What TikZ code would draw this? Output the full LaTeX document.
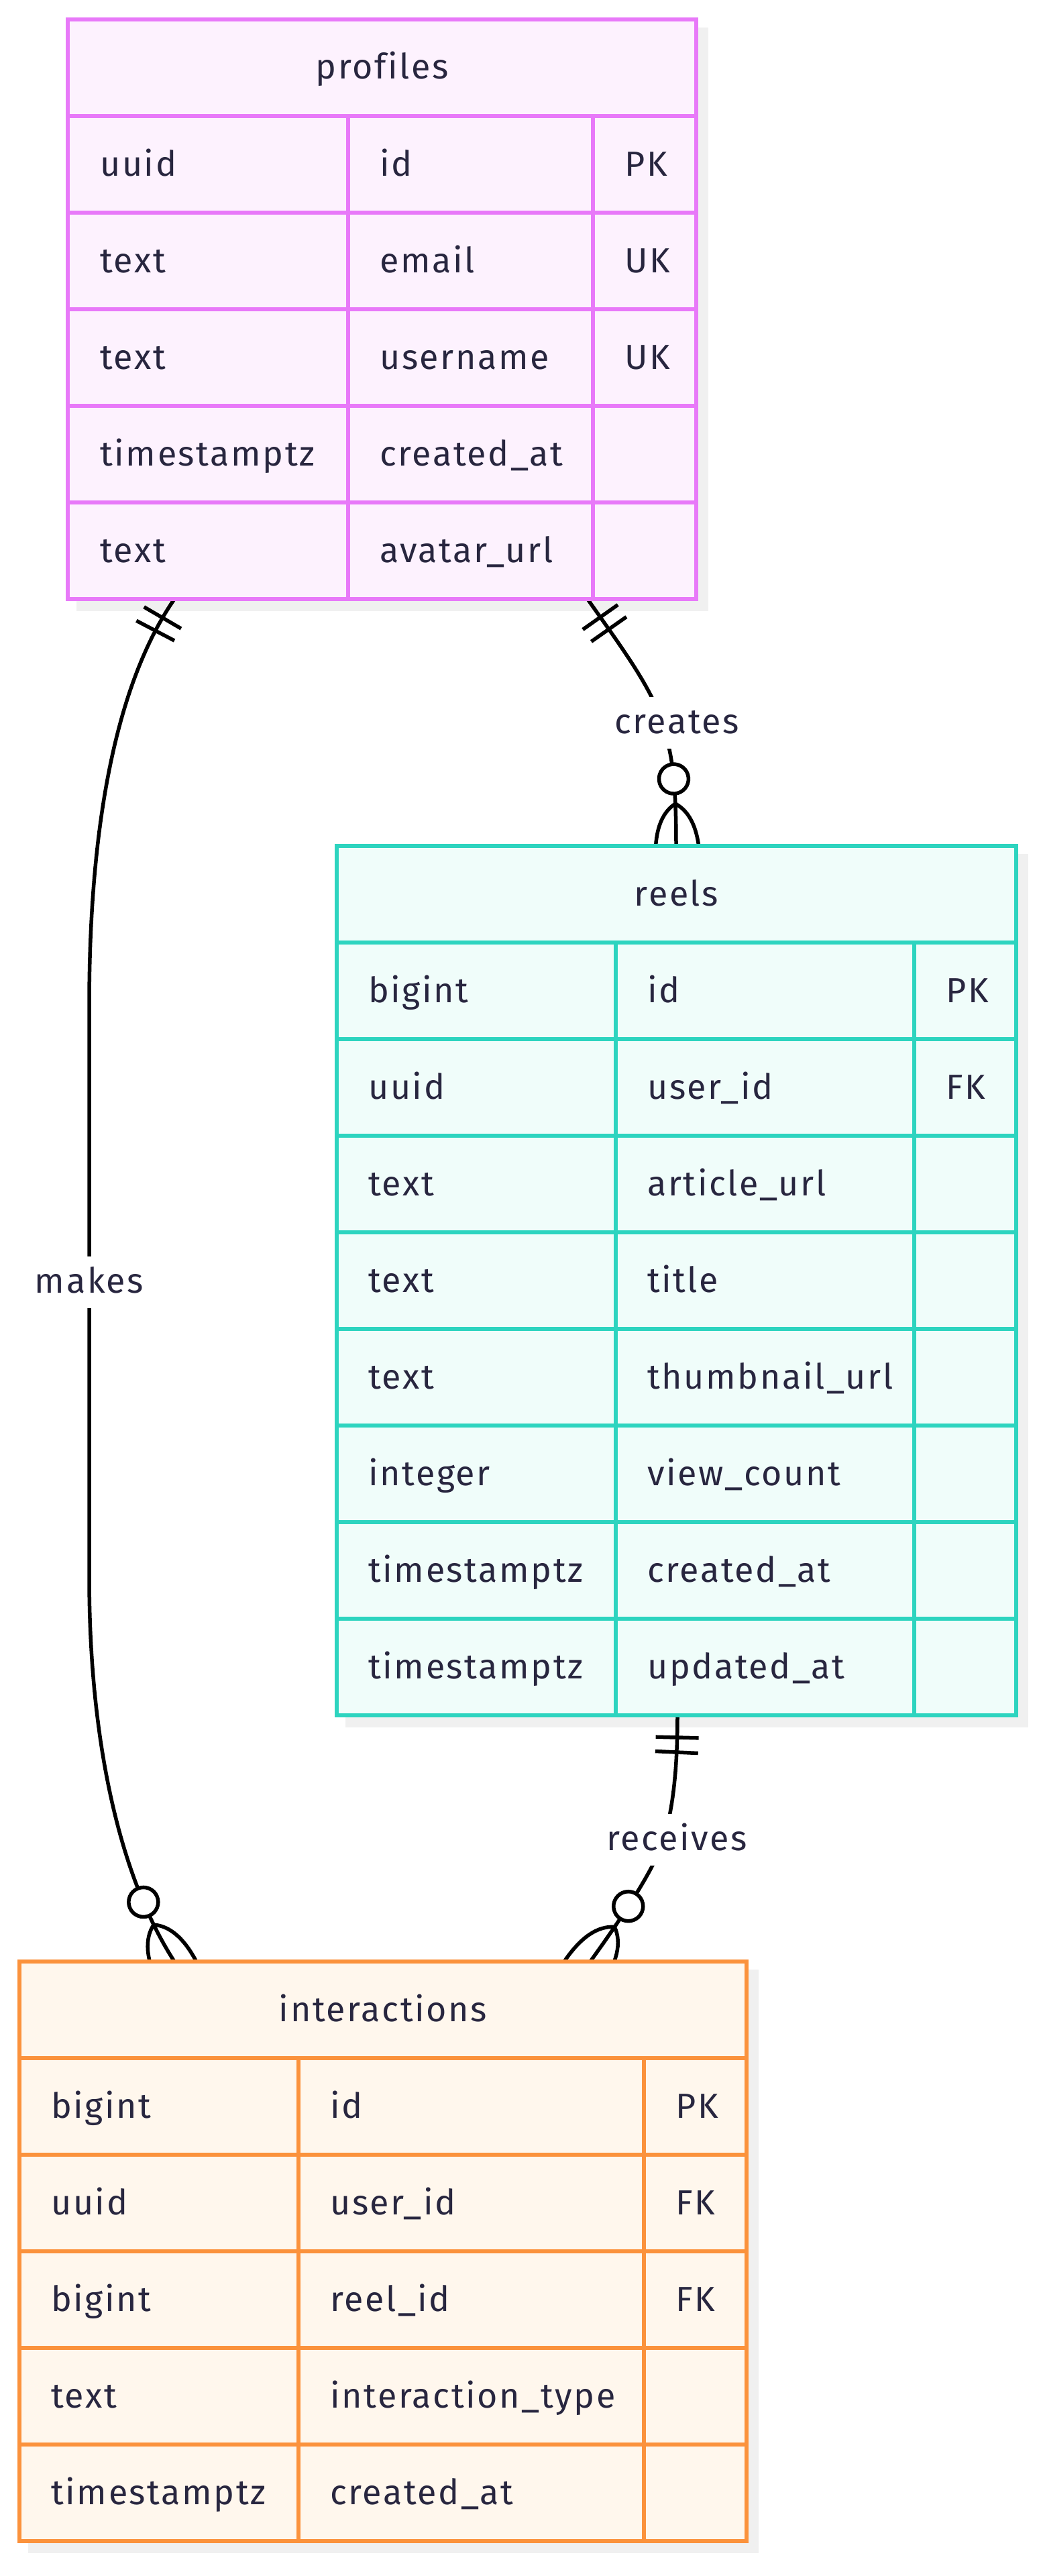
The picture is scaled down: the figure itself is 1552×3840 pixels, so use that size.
\documentclass[tikz,border=0pt]{standalone}
\usepackage{fontspec}
\setmainfont{Fira Sans}[LetterSpace=5, Ligatures={NoCommon}]
\usetikzlibrary{positioning,decorations.markings}

\definecolor{ink}{HTML}{28263F}
\definecolor{pinkline}{HTML}{E879F9}
\definecolor{pinkfill}{HTML}{FDF2FE}
\definecolor{tealline}{HTML}{2DD4BF}
\definecolor{tealfill}{HTML}{F0FDFA}
\definecolor{orangeline}{HTML}{FB923C}
\definecolor{orangefill}{HTML}{FFF7ED}
\definecolor{shadowgray}{HTML}{F0F0F0}

\newcommand{\erfont}{\fontsize{52}{62}\selectfont}

\begin{document}
\begin{tikzpicture}[x=1pt,y=-1pt,
    frame/.style={inner sep=0pt, outer sep=0pt, anchor=north west},
    tblshadow/.style={fill=shadowgray},
    tbl/.style={line width=6pt},
    cell/.style={anchor=base west, inner sep=0pt, text=ink, font=\erfont},
    title/.style={anchor=base, inner sep=0pt, text=ink, font=\erfont},
    rel/.style={line width=5.5pt, black},
    lbl/.style={anchor=base, fill=white, text=ink, font=\erfont, text height=40pt, text depth=9pt, inner xsep=4pt, inner ysep=14pt},
    one end/.style={postaction={decorate, decoration={markings,
        mark=at position 33pt with {\draw[rel] (0pt,-32pt) -- (0pt,32pt);},
        mark=at position 55pt with {\draw[rel] (0pt,-32pt) -- (0pt,32pt);}}}},
    many end/.style={postaction={decorate, decoration={markings,
        mark=at position -63pt with {\draw[rel] (0pt,0pt) .. controls (13pt,22pt) and (41pt,33pt) .. (84pt,33pt);
                                     \draw[rel] (0pt,0pt) .. controls (13pt,-22pt) and (41pt,-33pt) .. (84pt,-33pt);},
        mark=at position -100pt with {\draw[rel, fill=white] (0pt,0pt) circle (22pt);}}}}]
  \useasboundingbox (0,0) rectangle (1552,3840);

  % table frames
  \node[frame, minimum width=937pt, minimum height=864pt] (profiles) at (101,29) {};
  \node[frame, minimum width=1013pt, minimum height=1296pt] (reels) at (502,1261) {};
  \node[frame, minimum width=1084pt, minimum height=864pt] (interactions) at (29,2924) {};

  \foreach \tb in {profiles,reels,interactions}
    \fill[tblshadow] ([shift={(13pt,-12pt)}]\tb.north west) rectangle ([shift={(18pt,-18pt)}]\tb.south east);

  % relations
  \coordinate (makes-a) at ([xshift=159pt]profiles.south west);
  \coordinate (makes-b) at ([xshift=231pt]interactions.north west);
  \coordinate (creates-a) at ([xshift=775pt]profiles.south west);
  \coordinate (creates-b) at ([xshift=506pt]reels.north west);
  \coordinate (receives-a) at ([xshift=508pt]reels.south west);
  \coordinate (receives-b) at ([xshift=851pt]interactions.north west);

  \draw[rel, one end, many end] (makes-a) .. controls +(-60,87) and +(0,-350) .. (133,1500) -- (133,2350)
    .. controls +(0,250) and +(-80,-124) .. (makes-b);
  \draw[rel, one end, many end] (creates-a) .. controls +(49,70) and +(-16,-55) .. (988,1080)
    .. controls +(12,40) and +(0,-111) .. (creates-b);
  \draw[rel, one end, many end] (receives-a) .. controls +(0,82) and +(10,-40) .. (993,2730)
    .. controls +(-8,35) and +(75,-104) .. (receives-b);

  \node[lbl] (makes) at (133,1927) {makes};
  \node[lbl] (creates) at (1009,1093) {creates};
  \node[lbl] (receives) at (1009,2758) {receives};

  % profiles
  \draw[tbl, draw=pinkline, fill=pinkfill] (profiles.north west) rectangle (profiles.south east);
  \foreach \r in {1,...,5}
    \draw[tbl, pinkline] ([yshift=-\r*144pt]profiles.north west) -- ([yshift=-\r*144pt]profiles.north east);
  \foreach \c in {418,783}
    \draw[tbl, pinkline] ([xshift=\c pt, yshift=-144pt]profiles.north west) -- ([xshift=\c pt]profiles.south west);
  \node[title] (profiles-title) at ([yshift=-89pt]profiles.north) {profiles};
  \foreach \t/\f/\k [count=\i] in {uuid/id/PK, text/email/UK, text/username/UK,
      timestamptz/created\_at/, text/avatar\_url/} {
    \node[cell] (profiles-t\i) at ([xshift=48pt, yshift={-\i*144pt-89pt}]profiles.north west) {\t};
    \node[cell] (profiles-f\i) at ([xshift=465pt, yshift={-\i*144pt-89pt}]profiles.north west) {\f};
    \node[cell] (profiles-k\i) at ([xshift=830pt, yshift={-\i*144pt-89pt}]profiles.north west) {\k};
  }

  % reels
  \draw[tbl, draw=tealline, fill=tealfill] (reels.north west) rectangle (reels.south east);
  \foreach \r in {1,...,8}
    \draw[tbl, tealline] ([yshift=-\r*144pt]reels.north west) -- ([yshift=-\r*144pt]reels.north east);
  \foreach \c in {416,861}
    \draw[tbl, tealline] ([xshift=\c pt, yshift=-144pt]reels.north west) -- ([xshift=\c pt]reels.south west);
  \node[title] (reels-title) at ([yshift=-89pt]reels.north) {reels};
  \foreach \t/\f/\k [count=\i] in {bigint/id/PK, uuid/user\_id/FK, text/article\_url/, text/title/,
      text/thumbnail\_url/, integer/view\_count/, timestamptz/created\_at/, timestamptz/updated\_at/} {
    \node[cell] (reels-t\i) at ([xshift=47pt, yshift={-\i*144pt-89pt}]reels.north west) {\t};
    \node[cell] (reels-f\i) at ([xshift=463pt, yshift={-\i*144pt-89pt}]reels.north west) {\f};
    \node[cell] (reels-k\i) at ([xshift=908pt, yshift={-\i*144pt-89pt}]reels.north west) {\k};
  }

  % interactions
  \draw[tbl, draw=orangeline, fill=orangefill] (interactions.north west) rectangle (interactions.south east);
  \foreach \r in {1,...,5}
    \draw[tbl, orangeline] ([yshift=-\r*144pt]interactions.north west) -- ([yshift=-\r*144pt]interactions.north east);
  \foreach \c in {416,931}
    \draw[tbl, orangeline] ([xshift=\c pt, yshift=-144pt]interactions.north west) -- ([xshift=\c pt]interactions.south west);
  \node[title] (interactions-title) at ([yshift=-89pt]interactions.north) {interactions};
  \foreach \t/\f/\k [count=\i] in {bigint/id/PK, uuid/user\_id/FK, bigint/reel\_id/FK,
      text/interaction\_type/, timestamptz/created\_at/} {
    \node[cell] (interactions-t\i) at ([xshift=47pt, yshift={-\i*144pt-89pt}]interactions.north west) {\t};
    \node[cell] (interactions-f\i) at ([xshift=463pt, yshift={-\i*144pt-89pt}]interactions.north west) {\f};
    \node[cell] (interactions-k\i) at ([xshift=978pt, yshift={-\i*144pt-89pt}]interactions.north west) {\k};
  }
\end{tikzpicture}
\end{document}
